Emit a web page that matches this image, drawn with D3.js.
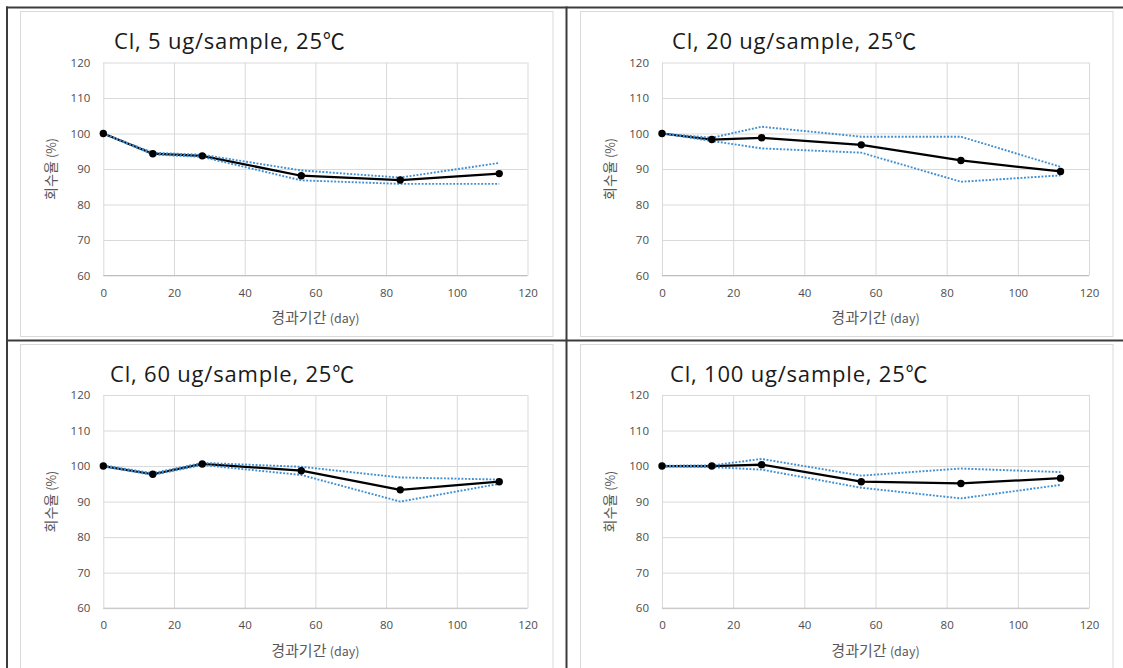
<!DOCTYPE html>
<html>
<head>
<meta charset="utf-8">
<script src="https://cdn.jsdelivr.net/npm/d3@7"></script>
<style>
  html, body { margin: 0; padding: 0; background: #ffffff; }
  svg { display: block; }
  .tick text { font-family: "Open Sans", "Noto Sans CJK KR", sans-serif; font-size: 11.5px; fill: #4d4d4d; }
</style>
</head>
<body>
<svg id="chart" width="1123" height="668"></svg>
<script>
// Sampling days (x) and axis ticks
const days = [0, 14, 28, 56, 84, 112];
const xTicks = [0, 20, 40, 60, 80, 100, 120];
const yTicks = [60, 70, 80, 90, 100, 110, 120];

const titles = [
  "Cl, 5 ug/sample, 25℃",
  "Cl, 20 ug/sample, 25℃",
  "Cl, 60 ug/sample, 25℃",
  "Cl, 100 ug/sample, 25℃"
];
const xAxisTitle = "경과기간";
const xAxisUnit = "(day)";
const yAxisTitle = "회수율";
const yAxisUnit = "(%)";

// Recovery (%) — mean, upper and lower bounds per concentration
const mean5  = [100, 94.3, 93.7, 88.1, 86.9, 88.7];
const upper5 = [100, 94.6, 94.0, 89.6, 87.6, 91.7];
const lower5 = [100, 94.1, 93.4, 86.8, 85.8, 85.8];

const mean20  = [100, 98.3, 98.8, 96.8, 92.4, 89.3];
const upper20 = [100, 98.8, 101.9, 99.1, 99.1, 90.6];
const lower20 = [100, 97.9, 95.8, 94.6, 86.4, 88.2];

const mean60  = [100, 97.7, 100.6, 98.7, 93.3, 95.6];
const upper60 = [100.2, 98.0, 100.9, 99.8, 96.8, 96.2];
const lower60 = [99.9, 97.5, 100.3, 97.5, 90.0, 95.0];

const mean100  = [100, 100, 100.4, 95.6, 95.1, 96.6];
const upper100 = [100.1, 100.2, 102.0, 97.3, 99.3, 98.3];
const lower100 = [99.9, 99.7, 99.0, 93.9, 90.9, 94.7];

const seriesSets = [
  { mean: mean5,   upper: upper5,   lower: lower5 },
  { mean: mean20,  upper: upper20,  lower: lower20 },
  { mean: mean60,  upper: upper60,  lower: lower60 },
  { mean: mean100, upper: upper100, lower: lower100 }
];

// Panel geometry: chart box, plot area and title anchor
const panels = [
  { box: [20.5, 11.5, 532.5, 325], plot: [103.3, 62.5, 527.5, 275.5], title: [114, 48.5] },
  { box: [580.5, 11.5, 532.5, 325], plot: [662, 62.5, 1089, 275.5], title: [672, 48.5] },
  { box: [20.5, 344.5, 532.5, 330], plot: [103.3, 395, 527.5, 608.2], title: [110, 381.5] },
  { box: [580.5, 344.5, 532.5, 330], plot: [662, 395, 1089, 608.2], title: [670, 381.5] }
];

const svg = d3.select("#chart");

// Table frame around the four panels
const frame = svg.append("g").attr("stroke", "#3c3c3c").attr("stroke-width", 2);
frame.append("line").attr("x1", 6).attr("x2", 1123).attr("y1", 7.5).attr("y2", 7.5);
frame.append("line").attr("x1", 7).attr("x2", 7).attr("y1", 6.5).attr("y2", 668);
frame.append("line").attr("x1", 566.5).attr("x2", 566.5).attr("y1", 6.5).attr("y2", 668);
frame.append("line").attr("x1", 7).attr("x2", 1123).attr("y1", 340.5).attr("y2", 340.5);

panels.forEach((p, i) => {
  const s = seriesSets[i];
  const [bx, by, bw, bh] = p.box;
  const [px0, py0, px1, py1] = p.plot;

  const g = svg.append("g");

  g.append("rect")
    .attr("x", bx).attr("y", by).attr("width", bw).attr("height", bh)
    .attr("fill", "#ffffff").attr("stroke", "#d9d9d9").attr("stroke-width", 1);

  const x = d3.scaleLinear().domain([0, 120]).range([px0, px1]);
  const y = d3.scaleLinear().domain([60, 120]).range([py1, py0]);

  // Horizontal gridlines with y tick labels
  const yAxis = g.append("g")
    .attr("transform", `translate(${px0},0)`)
    .call(d3.axisLeft(y).tickValues(yTicks).tickSize(-(px1 - px0)).tickPadding(13).tickFormat(d3.format("d")));
  yAxis.select(".domain").remove();
  yAxis.selectAll(".tick line").attr("stroke", "#d9d9d9").attr("stroke-width", 1);

  // Vertical gridlines with x tick labels
  const xAxis = g.append("g")
    .attr("transform", `translate(0,${py1})`)
    .call(d3.axisBottom(x).tickValues(xTicks).tickSize(-(py1 - py0)).tickPadding(13).tickFormat(d3.format("d")));
  xAxis.select(".domain").remove();
  xAxis.selectAll(".tick line").attr("stroke", "#d9d9d9").attr("stroke-width", 1);

  // Baseline of the plot area
  g.append("line")
    .attr("x1", px0).attr("x2", px1).attr("y1", y(60)).attr("y2", y(60))
    .attr("stroke", "#bfbfbf").attr("stroke-width", 1);

  const line = d3.line().x((d, k) => x(days[k])).y(d => y(d));

  g.append("path")
    .datum(s.mean)
    .attr("d", line)
    .attr("fill", "none").attr("stroke", "#000000").attr("stroke-width", 2.25)
    .attr("stroke-linejoin", "round");

  [s.upper, s.lower].forEach(b => {
    g.append("path")
      .datum(b)
      .attr("d", line)
      .attr("fill", "none").attr("stroke", "#3f8fd2").attr("stroke-width", 1.9)
      .attr("stroke-dasharray", "1.9 1.6");
  });

  g.selectAll("circle.pt")
    .data(s.mean)
    .join("circle")
    .attr("class", "pt")
    .attr("cx", (d, k) => x(days[k]))
    .attr("cy", d => y(d))
    .attr("r", 3.7)
    .attr("fill", "#000000");

  // Chart title
  g.append("text")
    .attr("x", p.title[0]).attr("y", p.title[1])
    .attr("font-family", "'Open Sans', 'Noto Sans CJK KR', sans-serif")
    .attr("font-size", 22)
    .attr("letter-spacing", 0.8)
    .attr("fill", "#1a1a1a")
    .text(titles[i]);

  // X axis title
  const xt = g.append("text")
    .attr("x", (px0 + px1) / 2).attr("y", py1 + 47.5)
    .attr("text-anchor", "middle")
    .attr("font-family", "'Noto Sans CJK KR', 'Open Sans', sans-serif")
    .attr("fill", "#595959");
  xt.append("tspan").attr("font-size", 15).text(xAxisTitle + " ");
  xt.append("tspan").attr("font-size", 12.5).text(xAxisUnit);

  // Y axis title (rotated)
  const yt = g.append("text")
    .attr("transform", `translate(${px0 - 47},${(py0 + py1) / 2}) rotate(-90)`)
    .attr("text-anchor", "middle")
    .attr("font-family", "'Noto Sans CJK KR', 'Open Sans', sans-serif")
    .attr("fill", "#595959");
  yt.append("tspan").attr("font-size", 14).text(yAxisTitle + " ");
  yt.append("tspan").attr("font-size", 12.5).text(yAxisUnit);
});
</script>
</body>
</html>
